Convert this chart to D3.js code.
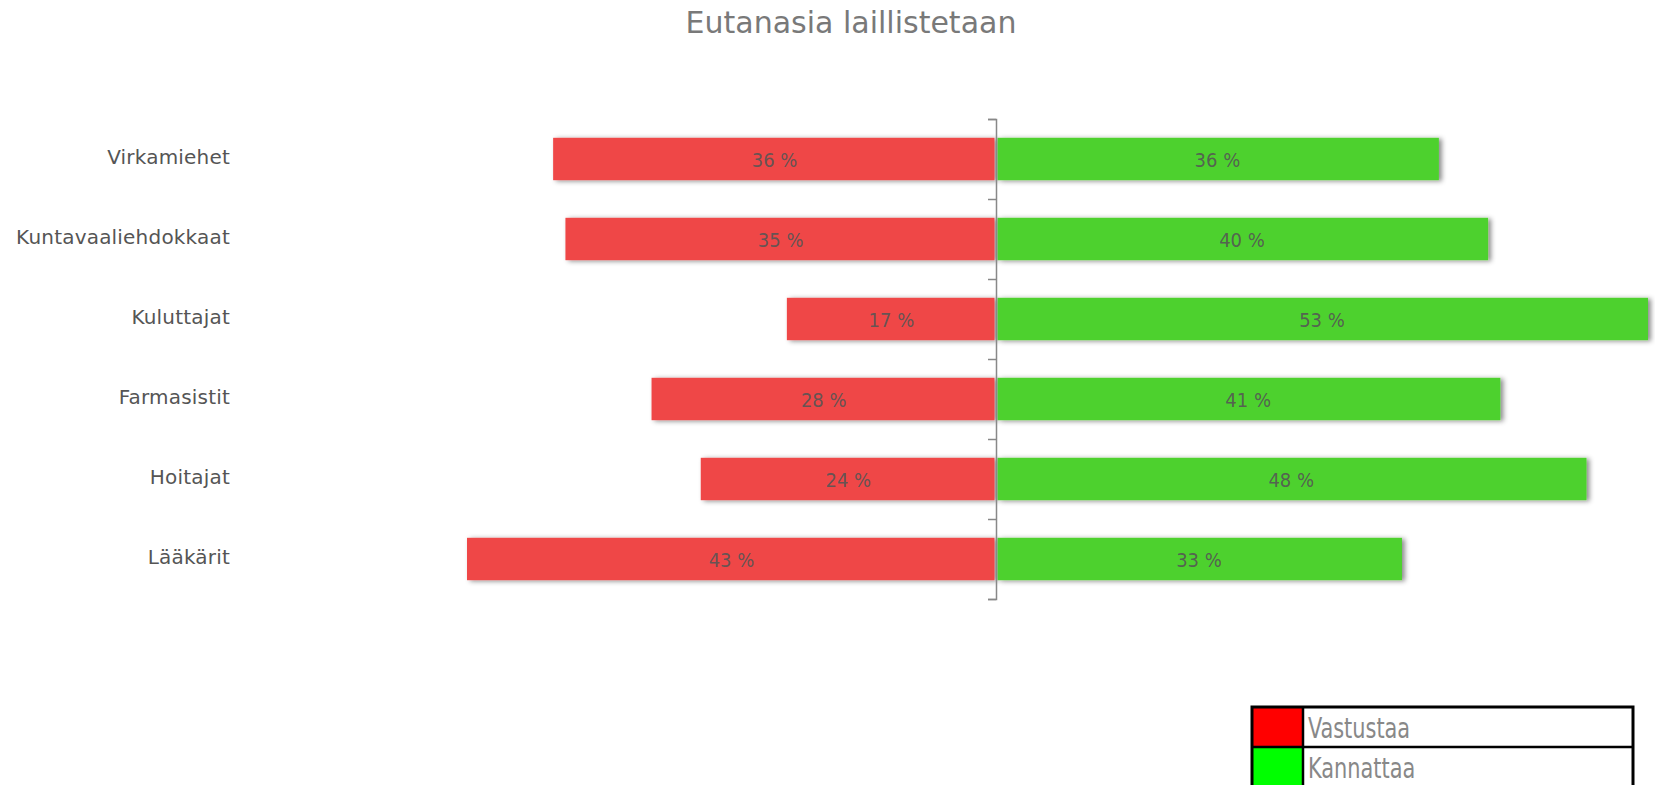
<!DOCTYPE html>
<html>
<head>
<meta charset="utf-8">
<script src="https://cdn.jsdelivr.net/npm/d3@7"></script>
<style>
  html, body { margin: 0; padding: 0; background: #fff; overflow: hidden; }
  svg { display: block; }
</style>
</head>
<body>
<div id="chart"></div>
<script>
var title = "Eutanasia laillistetaan"
var categories = ["Virkamiehet", "Kuntavaaliehdokkaat", "Kuluttajat", "Farmasistit", "Hoitajat", "Lääkärit"]
var vastustaa = [36, 35, 17, 28, 24, 43]
var kannattaa = [36, 40, 53, 41, 48, 33]
var seriesNames = ["Vastustaa", "Kannattaa"]
var barColors = ["#ef4747", "#4dd12d"]
var legendColors = ["#ff0000", "#00ff00"]

var width = 1655, height = 785,
	margin = { top: 119, right: 7, bottom: 186, left: 344 },
	labelX = 230

var svg = d3.select("#chart").append("svg")
	.attr("width", width)
	.attr("height", height)

// soft shadow under the bars
var filter = svg.append("defs").append("filter")
	.attr("id", "shadow")
	.attr("x", "-5%").attr("y", "-40%")
	.attr("width", "110%").attr("height", "180%")
filter.append("feDropShadow")
	.attr("dx", 3).attr("dy", 1)
	.attr("stdDeviation", 2.5)
	.attr("flood-color", "#000")
	.attr("flood-opacity", 0.45)

var maxVal = d3.max(vastustaa.concat(kannattaa))

var x = d3.scaleLinear()
	.domain([-maxVal, maxVal])
	.range([margin.left, width - margin.right])

var y = d3.scaleBand()
	.domain(categories)
	.range([margin.top, height - margin.bottom])
	.paddingInner(0.47)
	.paddingOuter(0.235)

// tick marks sit on the band boundaries
var yTicks = d3.scaleLinear()
	.domain([0, categories.length])
	.range([margin.top, height - margin.bottom])

var rows = categories.map((c, i) => ({ name: c, neg: vastustaa[i], pos: kannattaa[i] }))

// title
svg.append("text")
	.attr("x", 851)
	.attr("y", 33)
	.attr("text-anchor", "middle")
	.style("font-family", "'DejaVu Sans', sans-serif")
	.style("font-size", "30px")
	.style("fill", "#797979")
	.text(title)

// bars
var row = svg.append("g").selectAll("g")
	.data(rows)
	.join("g")

row.append("rect")
	.attr("x", d => x(-d.neg))
	.attr("y", d => y(d.name))
	.attr("width", d => x(0) - x(-d.neg) - 1.5)
	.attr("height", y.bandwidth())
	.attr("fill", barColors[0])
	.attr("filter", "url(#shadow)")

row.append("rect")
	.attr("x", x(0) + 1.5)
	.attr("y", d => y(d.name))
	.attr("width", d => x(d.pos) - x(0) - 1.5)
	.attr("height", y.bandwidth())
	.attr("fill", barColors[1])
	.attr("filter", "url(#shadow)")

var valueStyle = (sel) => {
	sel.attr("text-anchor", "middle")
		.attr("dy", "0.38em")
		.style("font-family", "'DejaVu Sans Condensed', 'DejaVu Sans', sans-serif")
		.style("font-stretch", "condensed")
		.style("font-size", "20px")
		.style("fill", "#555")
		.style("fill-opacity", 0.9)
}

row.append("text")
	.attr("x", d => (x(-d.neg) + x(0)) / 2)
	.attr("y", d => y(d.name) + y.bandwidth() / 2)
	.call(valueStyle)
	.text(d => d.neg + " %")

row.append("text")
	.attr("x", d => (x(d.pos) + x(0)) / 2)
	.attr("y", d => y(d.name) + y.bandwidth() / 2)
	.call(valueStyle)
	.text(d => d.pos + " %")

// category labels
svg.append("g").selectAll("text")
	.data(categories)
	.join("text")
	.attr("x", labelX)
	.attr("y", d => y(d) + y.bandwidth() / 2)
	.attr("dy", "0.27em")
	.attr("text-anchor", "end")
	.style("font-family", "'DejaVu Sans', sans-serif")
	.style("font-size", "20px")
	.style("letter-spacing", "0.2px")
	.style("fill", "#555")
	.text(d => d)

// centre axis
var axis = svg.append("g")
	.attr("transform", "translate(" + x(0) + ",0)")
	.call(d3.axisLeft(yTicks).ticks(categories.length).tickSize(8).tickSizeOuter(8).tickFormat(""))
axis.selectAll("path, line")
	.attr("stroke", "#888")
	.attr("stroke-width", 1.5)

// legend (table style)
var lg = { x: 1252, y: 707, w: 381, rowH: 40, sw: 51, squeeze: 0.8 }
var legend = svg.append("g")

legend.selectAll("rect.sw")
	.data(seriesNames)
	.join("rect")
	.attr("class", "sw")
	.attr("x", lg.x)
	.attr("y", (d, i) => lg.y + i * lg.rowH)
	.attr("width", lg.sw)
	.attr("height", lg.rowH)
	.attr("fill", (d, i) => legendColors[i])

// narrow lettering: squeeze horizontally
legend.selectAll("text")
	.data(seriesNames)
	.join("text")
	.attr("transform", (d, i) => "translate(" + (lg.x + lg.sw + 5) + "," + (lg.y + i * lg.rowH + 31) + ") scale(" + lg.squeeze + ",1)")
	.style("font-family", "'DejaVu Sans Condensed', 'DejaVu Sans', sans-serif")
	.style("font-stretch", "condensed")
	.style("font-size", "29px")
	.style("fill", "#888")
	.text(d => d)

legend.append("rect")
	.attr("x", lg.x)
	.attr("y", lg.y)
	.attr("width", lg.w)
	.attr("height", lg.rowH * seriesNames.length)
	.attr("fill", "none")
	.attr("stroke", "#000")
	.attr("stroke-width", 3)

legend.append("line")
	.attr("x1", lg.x).attr("x2", lg.x + lg.w)
	.attr("y1", lg.y + lg.rowH).attr("y2", lg.y + lg.rowH)
	.attr("stroke", "#000").attr("stroke-width", 2.5)

legend.append("line")
	.attr("x1", lg.x + lg.sw).attr("x2", lg.x + lg.sw)
	.attr("y1", lg.y).attr("y2", lg.y + lg.rowH * seriesNames.length)
	.attr("stroke", "#000").attr("stroke-width", 2.5)
</script>
</body>
</html>
